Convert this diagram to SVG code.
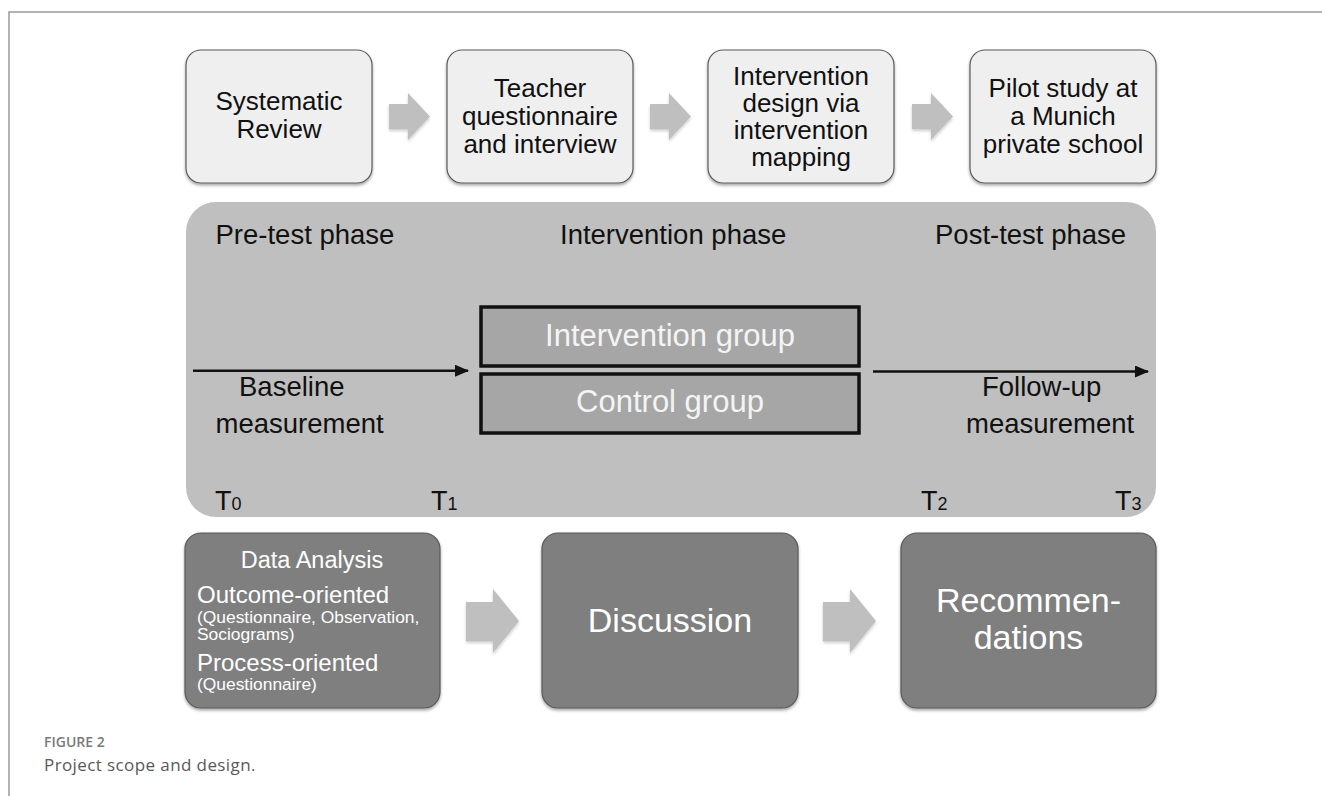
<svg xmlns="http://www.w3.org/2000/svg" width="1322" height="796" viewBox="0 0 1322 796">
<defs>
<style>
text{font-family:"Liberation Sans",Arial,sans-serif}
.top{fill:#efefef;stroke:#5a5a5a;stroke-width:1.2}
.bot{fill:#7f7f7f;stroke:#595959;stroke-width:1.2}
.grp{fill:#a6a6a6;stroke:#111;stroke-width:3.5}
.tt{font-size:26px;fill:#111;text-anchor:middle}
.pt{font-size:27.5px;fill:#111}
.gt{font-size:31px;fill:#f4f4f4;text-anchor:middle}
.wt{fill:#fff}
.blk{fill:#bfbfbf}
.line{stroke:#111;stroke-width:2.5;fill:none}
</style>
<filter id="sh" x="-10%" y="-10%" width="120%" height="130%">
<feDropShadow dx="0" dy="2" stdDeviation="1.8" flood-color="#000" flood-opacity="0.35"/>
</filter>
<filter id="sh2" x="-20%" y="-20%" width="140%" height="140%">
<feDropShadow dx="0" dy="2" stdDeviation="1.5" flood-color="#000" flood-opacity="0.2"/>
</filter>
<marker id="ah" markerUnits="userSpaceOnUse" markerWidth="14" markerHeight="12" refX="13" refY="6" orient="auto">
<path d="M0,0 L14,6 L0,12 Z" fill="#111"/>
</marker>
</defs>
<rect width="1322" height="796" fill="#fff"/>
<path d="M9,796 V12 H1322" fill="none" stroke="#9a9a9a" stroke-width="1.5"/>

<g id="panel">
<rect x="186" y="202" width="970" height="315" rx="30" fill="#bfbfbf"/>
<text class="pt" x="215.5" y="244">Pre-test phase</text>
<text class="pt" x="560" y="244">Intervention phase</text>
<text class="pt" x="935" y="244">Post-test phase</text>
<text class="pt" x="239" y="396">Baseline</text>
<text class="pt" x="215.5" y="433">measurement</text>
<text class="pt" x="982" y="396">Follow-up</text>
<text class="pt" x="966" y="433">measurement</text>
<text class="pt" x="215" y="510" style="font-size:27px">T<tspan style="font-size:18px">0</tspan></text>
<text class="pt" x="431" y="510" style="font-size:27px">T<tspan style="font-size:18px">1</tspan></text>
<text class="pt" x="921" y="510" style="font-size:27px">T<tspan style="font-size:18px">2</tspan></text>
<text class="pt" x="1115" y="510" style="font-size:27px">T<tspan style="font-size:18px">3</tspan></text>
</g>

<g id="n1">
<rect class="top" x="186" y="50" width="186" height="133" rx="15" filter="url(#sh)"/>
<text class="tt" x="279" y="110">Systematic</text>
<text class="tt" x="279" y="138">Review</text>
</g>
<g id="n2">
<rect class="top" x="447" y="50" width="186" height="133" rx="15" filter="url(#sh)"/>
<text class="tt" x="540" y="97">Teacher</text>
<text class="tt" x="540" y="125">questionnaire</text>
<text class="tt" x="540" y="153">and interview</text>
</g>
<g id="n3">
<rect class="top" x="708" y="50" width="186" height="133" rx="15" filter="url(#sh)"/>
<text class="tt" x="801" y="85">Intervention</text>
<text class="tt" x="801" y="112">design via</text>
<text class="tt" x="801" y="139">intervention</text>
<text class="tt" x="801" y="166">mapping</text>
</g>
<g id="n4">
<rect class="top" x="970" y="50" width="186" height="133" rx="15" filter="url(#sh)"/>
<text class="tt" x="1063" y="97">Pilot study at</text>
<text class="tt" x="1063" y="125">a Munich</text>
<text class="tt" x="1063" y="153">private school</text>
</g>

<g id="intervention-group">
<rect class="grp" x="481" y="307" width="378" height="59"/>
<text class="gt" x="670" y="346">Intervention group</text>
</g>
<g id="control-group">
<rect class="grp" x="481" y="374" width="378" height="59"/>
<text class="gt" x="670" y="412">Control group</text>
</g>

<g id="data-analysis">
<rect class="bot" x="185" y="533" width="255" height="175" rx="16" filter="url(#sh)"/>
<text class="wt" x="312" y="567.5" style="font-size:23.5px;text-anchor:middle">Data Analysis</text>
<text class="wt" x="197" y="602.5" style="font-size:24px">Outcome-oriented</text>
<text class="wt" x="197" y="622.5" style="font-size:17.4px">(Questionnaire, Observation,</text>
<text class="wt" x="197" y="640" style="font-size:17.4px">Sociograms)</text>
<text class="wt" x="197" y="670.5" style="font-size:24px">Process-oriented</text>
<text class="wt" x="197" y="690" style="font-size:17.4px">(Questionnaire)</text>
</g>
<g id="discussion">
<rect class="bot" x="542" y="533" width="256" height="175" rx="16" filter="url(#sh)"/>
<text class="wt" x="670" y="632" style="font-size:34px;text-anchor:middle">Discussion</text>
</g>
<g id="recommendations">
<rect class="bot" x="901" y="533" width="255" height="175" rx="16" filter="url(#sh)"/>
<text class="wt" x="1028.5" y="612" style="font-size:34px;text-anchor:middle">Recommen-</text>
<text class="wt" x="1028.5" y="649" style="font-size:34px;text-anchor:middle">dations</text>
</g>

<g id="connectors">
<path class="blk" filter="url(#sh2)" d="M389,104 H408 V93 L430,116.5 L408,140 V129 H389 Z"/>
<path class="blk" filter="url(#sh2)" d="M650,104 H669 V93 L691,116.5 L669,140 V129 H650 Z"/>
<path class="blk" filter="url(#sh2)" d="M912,104 H931 V93 L953,116.5 L931,140 V129 H912 Z"/>
<path class="blk" filter="url(#sh2)" d="M466,602 H493 V589 L519,621 L493,653 V641 H466 Z"/>
<path class="blk" filter="url(#sh2)" d="M823,602 H850 V589 L876,621 L850,653 V641 H823 Z"/>
<line class="line" x1="193" y1="370.7" x2="468" y2="370.7" marker-end="url(#ah)"/>
<line class="line" x1="873" y1="371.5" x2="1148" y2="371.5" marker-end="url(#ah)"/>
</g>

<g id="caption">
<text x="44" y="747" style="font-family:'Open Sans','Liberation Sans',sans-serif;font-size:14px;font-weight:600;fill:#7a7a7a">FIGURE 2</text>
<text x="44" y="771" style="font-family:'Open Sans','Liberation Sans',sans-serif;font-size:17px;letter-spacing:0.4px;fill:#595959">Project scope and design.</text>
</g>
</svg>
